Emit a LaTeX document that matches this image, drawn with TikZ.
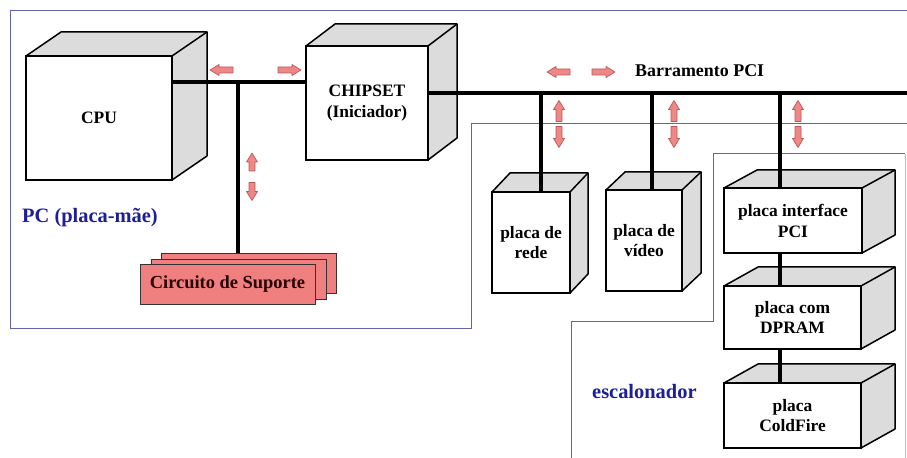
\documentclass[tikz,border=0pt]{standalone}
\usepackage{fontspec}
\setmainfont{Liberation Serif}
\definecolor{sidegray}{RGB}{220,220,220}
\definecolor{pinkfill}{RGB}{240,135,135}
\definecolor{pinkedge}{RGB}{185,90,90}
\definecolor{regionblue}{RGB}{100,100,170}
\definecolor{regionlight}{RGB}{185,185,210}
\definecolor{labelblue}{RGB}{30,30,150}
\definecolor{circfill}{RGB}{240,128,128}
\newcommand\lblfont{\fontsize{17.5}{21}\selectfont\bfseries}
% name, cx, cy, w, h, dx, dy, text
\newcommand\cubebox[8]{%
  \node[frontface, minimum width=#4bp, minimum height=#5bp] (#1) at (#2,#3) {#8};
  \filldraw[sideface] (#1.north west) -- ++(#6,#7) -- ([shift={(#6,#7)}]#1.north east)
     -- ([shift={(#6,#7)}]#1.south east) -- (#1.south east) -- (#1.north east) -- cycle;
  \draw[sideface] (#1.north east) -- ++(#6,#7);
}
% name, cx, cy, rotation (0 right, 180 left, 90 up, 270 down), length
\newcommand\blockarrow[5]{%
  \coordinate (#1) at (#2,#3);
  \begin{scope}[shift={(#1)}, rotate=#4]
    \filldraw[pinkarrow] (-#5/2,-3) -- (#5/2-9,-3) -- (#5/2-9,-5.5) -- (#5/2,0)
      -- (#5/2-9,5.5) -- (#5/2-9,3) -- (-#5/2,3) -- cycle;
  \end{scope}
}
\begin{document}
\begin{tikzpicture}[x=1bp,y=-1bp,
  frontface/.style={draw=black, line width=1.5bp, fill=white, inner sep=0pt, outer sep=0pt, align=center, font=\lblfont},
  sideface/.style={draw=black, line width=1.5bp, fill=sidegray, line join=round},
  bus/.style={line width=4bp, draw=black},
  region/.style={draw=regionblue, line width=1bp},
  pinkarrow/.style={fill=pinkfill, draw=pinkedge, line width=0.7bp, line join=round},
  circbox/.style={draw=black!80, line width=0.8bp, fill=circfill, minimum width=175bp, minimum height=40bp, inner sep=0pt, font=\fontsize{18.5}{22}\selectfont\bfseries, text=black!85!red},
  bluelabel/.style={font=\fontsize{20.5}{24}\selectfont\bfseries, text=labelblue, inner sep=0pt},
  buslabel/.style={font=\fontsize{18}{21}\selectfont\bfseries, inner sep=0pt}
]
\useasboundingbox[fill=white] (0,0) rectangle (907,458);
% regions
\draw[region] (907,11) -- (10,11) -- (10,329) -- (471,329) -- (471,124) -- (907,124);
\draw[region] (905,154) -- (713,154) -- (713,322) -- (571,322) -- (571,458);
\draw[draw=regionlight, line width=1bp] (905,154) -- (905,458);
% cubes
\cubebox{cpu}{99}{118}{146}{124}{35}{-24}{CPU}
\cubebox{chip}{367}{103}{122}{114}{29}{-22}{CHIPSET\\(Iniciador)}
\cubebox{rede}{531}{242.5}{78}{101}{18}{-19}{placa de\\rede}
\cubebox{video}{644}{240.5}{76}{101}{19}{-18}{placa de\\vídeo}
\cubebox{iface}{793}{220.5}{138}{65}{33}{-18}{placa interface\\PCI}
\cubebox{dpram}{792.5}{317.5}{137}{63}{34}{-19}{placa com\\DPRAM}
\cubebox{cf}{792.5}{415.5}{137}{65}{34}{-19}{placa\\ColdFire}
% support circuits
\node[circbox] (circ3) at (249,273.5) {};
\node[circbox] (circ2) at (238.5,279) {};
\node[circbox] (circ) at (227.5,284.5) {Circuito de Suporte};
% buses
\coordinate (j1) at (238,82);
\draw[bus] (cpu.east |- j1) -- (chip.west |- j1);
\draw[bus] (j1) -- (j1 |- circ3.north);
\coordinate (busEnd) at (907,93);
\draw[bus] (chip.east |- busEnd) -- (busEnd);
\coordinate (d1) at ([xshift=10bp]rede.north);
\coordinate (d2) at ([xshift=8bp]video.north);
\coordinate (d3) at ([xshift=-13bp]iface.north);
\draw[bus] (d1 |- busEnd) -- (d1);
\draw[bus] (d2 |- busEnd) -- (d2);
\draw[bus] (d3 |- busEnd) -- (d3);
\draw[bus] (d3 |- iface.south) -- (d3 |- dpram.north);
\draw[bus] (d3 |- dpram.south) -- (d3 |- cf.north);
% arrows
\blockarrow{aL1}{221.5}{70}{180}{23}
\blockarrow{aR1}{289.5}{70}{0}{23}
\blockarrow{aU1}{252}{162}{90}{18}
\blockarrow{aD1}{252}{191.5}{270}{18}
\blockarrow{aL2}{558.5}{72}{180}{23}
\blockarrow{aR2}{603.5}{72}{0}{23}
\blockarrow{aUr}{559}{111}{90}{21}
\blockarrow{aDr}{559}{137}{270}{21}
\blockarrow{aUv}{674}{111}{90}{21}
\blockarrow{aDv}{674}{137}{270}{21}
\blockarrow{aUi}{798}{111}{90}{21}
\blockarrow{aDi}{798}{137}{270}{21}
% labels
\node[bluelabel, anchor=base west] (pc) at (22,223) {PC (placa-mãe)};
\node[bluelabel, anchor=base west] (esc) at (592,398) {escalonador};
\node[buslabel, anchor=base west] (pci) at (635,77) {Barramento PCI};
\end{tikzpicture}
\end{document}
